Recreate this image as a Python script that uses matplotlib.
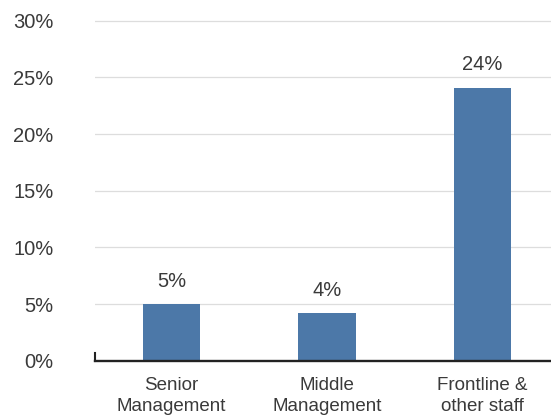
import matplotlib
matplotlib.use("Agg")
import matplotlib.pyplot as plt
from matplotlib.ticker import FuncFormatter

categories = ["Senior\nManagement", "Middle\nManagement", "Frontline &\nother staff"]
values = [5.0, 4.2, 24.1]
value_labels = ["5%", "4%", "24%"]
yticks = [0, 5, 10, 15, 20, 25, 30]

plt.rcParams['font.family'] = ['Liberation Sans', 'DejaVu Sans']

fig = plt.figure(figsize=(5.51, 4.15), dpi=100)
ax = fig.add_axes([94.5 / 551, 54.3 / 415, 456.5 / 551, 345.6 / 415])

x = list(range(len(categories)))
bars = ax.bar(x, values, width=0.367, color="#4c78a8", zorder=3)

for xi, v, lab in zip(x, values, value_labels):
    ax.annotate(lab, (xi, v), xytext=(0, 12.5), textcoords="offset points",
                ha="center", va="baseline", fontsize=14.5, color="#3a3a3a")

ax.set_xlim(-0.495, 2.44)
ax.set_ylim(0, 30.5)
ax.set_yticks(yticks)
ax.yaxis.set_major_formatter(FuncFormatter(lambda v, p: f"{int(v)}%"))
ax.set_xticks(x)
ax.set_xticklabels(categories, linespacing=1.3)

ax.tick_params(axis="y", length=0, pad=29.5, labelsize=14.5, labelcolor="#3a3a3a")
ax.tick_params(axis="x", length=0, pad=12, labelsize=13.5, labelcolor="#3a3a3a")

ax.grid(axis="y", color="#dddddd", linewidth=0.9, zorder=0)
ax.set_axisbelow(True)

for s in ["top", "right"]:
    ax.spines[s].set_visible(False)
ax.spines["bottom"].set_color("#222222")
ax.spines["bottom"].set_linewidth(1.7)
ax.spines["bottom"].set_zorder(4)
ax.spines["left"].set_color("#222222")
ax.spines["left"].set_linewidth(1.5)
ax.spines["left"].set_bounds(0, 0.7)

fig.savefig("out.png", dpi=100)
